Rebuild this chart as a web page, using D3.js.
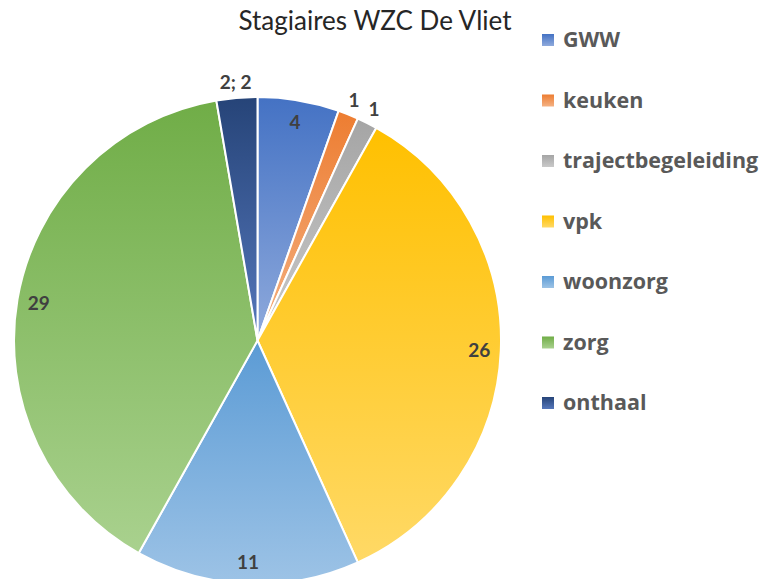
<!DOCTYPE html>
<html><head><meta charset="utf-8">
<script src="https://cdn.jsdelivr.net/npm/d3@7"></script>
<style>body{margin:0;background:#fff}svg{display:block}</style>
</head><body>
<svg id="c" width="765" height="579"></svg>
<script>
const categories = ["GWW","keuken","trajectbegeleiding","vpk","woonzorg","zorg","onthaal"];
const values = [4,1,1,26,11,29,2];
const labels = ["4","1","1","26","11","29","2; 2"];
const topColors = ["#4472C4","#ED7D31","#A5A5A5","#FFC000","#5B9BD5","#70AD47","#264478"];
const bottomColors = ["#8FAADC","#F4B183","#C9C9C9","#FFD966","#9DC3E6","#A9D18E","#5577BB"];
const outside = [false,true,true,false,false,false,true];

const svg = d3.select("#c");
const cx = 257.5, cy = 340.5, R = 243.5;
const font = "Lato, 'Open Sans', sans-serif";
const legendFont = "'Open Sans', Lato, sans-serif";

const defs = svg.append("defs");
categories.forEach((c,i)=>{
  const g = defs.append("linearGradient").attr("id","g"+i)
    .attr("x1",0).attr("y1",0).attr("x2",0).attr("y2",1);
  g.append("stop").attr("offset","0%").attr("stop-color",topColors[i]);
  g.append("stop").attr("offset","100%").attr("stop-color",bottomColors[i]);
});

svg.append("text").attr("x",375).attr("y",30).attr("text-anchor","middle")
  .attr("font-family",font).attr("font-size",26).attr("fill","#262626")
  .text("Stagiaires WZC De Vliet");

const pie = d3.pie().sort(null).value(d=>d)(values);
const arc = d3.arc().innerRadius(0).outerRadius(R);
const gp = svg.append("g").attr("transform",`translate(${cx},${cy})`);
gp.selectAll("path").data(pie).join("path")
  .attr("d",arc).attr("fill",(d,i)=>`url(#g${i})`)
  .attr("stroke","#fff").attr("stroke-width",2).attr("stroke-linejoin","round");

const arcIn = d3.arc().innerRadius(222).outerRadius(222);
const arcOut = d3.arc().innerRadius(259).outerRadius(259);
gp.selectAll("text").data(pie).join("text")
  .attr("transform",(d,i)=>{const p=(outside[i]?arcOut:arcIn).centroid(d);return `translate(${p[0]},${p[1]})`;})
  .attr("text-anchor","middle").attr("dy","0.36em")
  .attr("font-family",font).attr("font-weight","bold").attr("font-size",19)
  .attr("fill","#404040").text((d,i)=>labels[i]);

const lg = svg.append("g");
categories.forEach((c,i)=>{
  const y = 47 + i*60.5;
  lg.append("rect").attr("x",542).attr("y",y-13).attr("width",12).attr("height",12)
    .attr("fill",`url(#g${i})`);
  lg.append("text").attr("x",563).attr("y",y)
    .attr("font-family",legendFont).attr("font-weight","bold").attr("font-size",21.5)
    .attr("fill","#595959").text(c);
});
</script>
</body></html>
